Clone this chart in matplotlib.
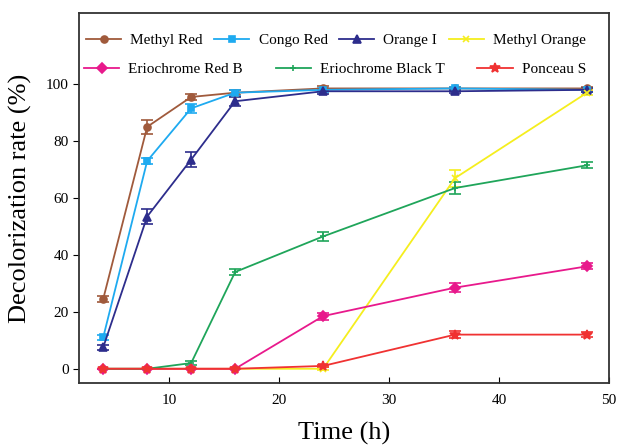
import matplotlib
matplotlib.use("Agg")
import matplotlib.pyplot as plt
from matplotlib.lines import Line2D

time_h = [4, 8, 12, 16, 24, 36, 48]

methyl_red = [24.5, 85, 95.5, 97, 98.5, 98.5, 98.5]
methyl_red_err = [1.2, 2.5, 1.0, 0.8, 0.8, 0.6, 0.6]
congo_red = [11, 73, 91.5, 97, 98, 98.5, 98]
congo_red_err = [1.0, 1.0, 1.5, 1.0, 0.8, 0.6, 0.6]
orange_i = [7.5, 53.5, 73.5, 94, 97.5, 97.5, 98]
orange_i_err = [0.8, 2.5, 2.5, 1.5, 0.8, 0.6, 0.6]
methyl_orange = [0, 0, 0, 0, 0, 67, 97]
methyl_orange_err = [0, 0, 0, 0, 0.5, 3.0, 0.8]
erio_red_b = [0, 0, 0, 0, 18.5, 28.5, 36]
erio_red_b_err = [0, 0, 0, 0, 1.2, 1.5, 1.0]
erio_black_t = [0, 0, 2, 34, 46.5, 63.5, 71.5]
erio_black_t_err = [0, 0, 0.8, 1.0, 1.5, 2.0, 1.0]
ponceau_s = [0, 0, 0, 0, 1, 12, 12]
ponceau_s_err = [0, 0, 0, 0, 0.5, 1.2, 0.8]

plt.rcParams['font.family'] = ['Liberation Serif', 'DejaVu Serif']

W, H = 617, 448
fig = plt.figure(figsize=(W / 100, H / 100), dpi=100)
ax = fig.add_axes([79 / W, 1 - 383 / H, 530 / W, 370 / H])

series = [
    ("Methyl Red", methyl_red, methyl_red_err, "#a05a3c", "o", 5),
    ("Congo Red", congo_red, congo_red_err, "#1eaaf0", "s", 5),
    ("Orange I", orange_i, orange_i_err, "#2d2d8c", "^", 6),
    ("Methyl Orange", methyl_orange, methyl_orange_err, "#f5ee1e", "x", 5),
    ("Eriochrome Red B", erio_red_b, erio_red_b_err, "#e8198c", "D", 5),
    ("Eriochrome Black T", erio_black_t, erio_black_t_err, "#1fa55a", "+", 5),
    ("Ponceau S", ponceau_s, ponceau_s_err, "#f03232", "*", 7),
]

proxies = {}
for name, y, e, c, m, ms in series:
    ax.errorbar(time_h, y, yerr=e, color=c, marker=m, markersize=ms,
                linewidth=1.3, elinewidth=1.2, capsize=4, capthick=1.2,
                markeredgewidth=1.2)
    proxies[name] = Line2D([], [], color=c, marker=m, markersize=ms,
                           linewidth=1.3, markeredgewidth=1.2)

row1 = ["Methyl Red", "Congo Red", "Orange I", "Methyl Orange"]
row2 = ["Eriochrome Red B", "Eriochrome Black T", "Ponceau S"]

def fx(px):
    return px / W

def fy(py):
    return 1 - py / H

leg1 = fig.legend([proxies[n] for n in row1], row1, ncol=4, loc="lower left",
                  mode="expand", bbox_to_anchor=(fx(86), fy(47), fx(586) - fx(86), fy(28) - fy(47)),
                  frameon=False, fontsize=11, handlelength=2.3, handletextpad=0.6,
                  borderaxespad=0, borderpad=0)
leg2 = fig.legend([proxies[n] for n in row2], row2, ncol=3, loc="lower left",
                  mode="expand", bbox_to_anchor=(fx(84), fy(76), fx(586) - fx(84), fy(57) - fy(76)),
                  frameon=False, fontsize=11, handlelength=2.3, handletextpad=0.6,
                  borderaxespad=0, borderpad=0)

ax.set_xlim(1.8, 50)
ax.set_ylim(-5, 125)
ax.set_xticks([10, 20, 30, 40, 50])
ax.set_yticks([0, 20, 40, 60, 80, 100])
ax.tick_params(axis='x', direction='in', labelsize=11, length=4, pad=8)
ax.tick_params(axis='y', direction='out', labelsize=11, length=4)
for s in ax.spines.values():
    s.set_linewidth(1.3)
    s.set_color("#333333")

ax.set_xlabel("Time (h)", fontsize=19, labelpad=11)
ax.set_ylabel("Decolorization rate (%)", fontsize=19, labelpad=10)

fig.savefig("out.png", dpi=100)
